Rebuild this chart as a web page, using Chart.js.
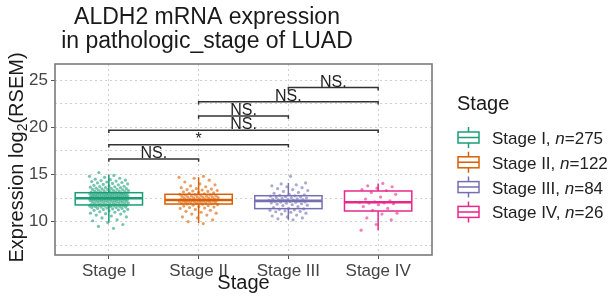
<!DOCTYPE html>
<html>
<head>
<meta charset="utf-8">
<script src="https://cdn.jsdelivr.net/npm/chart.js@4.4.1/dist/chart.umd.min.js"></script>
<style>
  html, body { margin: 0; padding: 0; background: #fff; }
</style>
</head>
<body>
<canvas id="boxChart" width="614" height="307"></canvas>
<script>
const stages = ['Stage I', 'Stage II', 'Stage III', 'Stage IV'];
const stageCounts = [275, 122, 84, 26];
const stageColors = ['#1B9E77', '#D95F02', '#7570B3', '#E7298A'];
const pointColors = ['rgba(27,158,119,0.6)', 'rgba(217,95,2,0.6)', 'rgba(117,112,179,0.6)', 'rgba(231,41,138,0.6)'];

// box stats
const whiskerLow  = [9.9, 9.83, 10.2, 9.1];
const q1          = [11.77, 11.87, 11.38, 11.13];
const median      = [12.48, 12.3, 12.2, 12.05];
const q3          = [13.07, 12.9, 12.75, 13.25];
const whiskerHigh = [15.0, 14.7, 14.1, 14.05];

// jittered points (estimated)
const stage1 = [
  9.3, 9.5, 9.7, 9.9, 10.1, 10.2, 10.4, 10.5, 10.6, 10.7, 10.8, 10.85, 10.9,
  11.0, 11.05, 11.1, 11.15, 11.2, 11.25, 11.3, 11.3, 11.35, 11.4, 11.4, 11.45, 11.5, 11.5, 11.55, 11.55,
  11.6, 11.6, 11.62, 11.65, 11.65, 11.68, 11.7, 11.7, 11.72, 11.73, 11.74, 11.75, 11.75, 11.76, 11.76, 11.77,
  11.8, 11.82, 11.85, 11.87, 11.9, 11.92, 11.95, 11.97, 12.0, 12.0, 12.02, 12.05, 12.07, 12.1, 12.1,
  12.12, 12.15, 12.15, 12.18, 12.2, 12.2, 12.22, 12.25, 12.25, 12.28, 12.3, 12.3, 12.32, 12.34, 12.35,
  12.36, 12.38, 12.38, 12.4, 12.4, 12.41, 12.42, 12.43, 12.44, 12.45, 12.45, 12.46, 12.46, 12.47, 12.48,
  12.5, 12.5, 12.52, 12.53, 12.55, 12.55, 12.57, 12.58, 12.6, 12.6, 12.62, 12.63, 12.65, 12.65, 12.67,
  12.68, 12.7, 12.7, 12.72, 12.74, 12.75, 12.76, 12.78, 12.8, 12.8, 12.82, 12.84, 12.85, 12.86, 12.88,
  12.9, 12.9, 12.92, 12.93, 12.95, 12.96, 12.97, 12.98, 13.0, 13.0, 13.02, 13.03, 13.04, 13.05, 13.06,
  13.1, 13.12, 13.15, 13.18, 13.2, 13.22, 13.25, 13.28, 13.3, 13.32, 13.35, 13.38, 13.4, 13.42, 13.45,
  13.48, 13.5, 13.52, 13.55, 13.6, 13.62, 13.65, 13.7, 13.72, 13.75, 13.8, 13.85, 13.9, 13.95, 14.0,
  14.05, 14.1, 14.15, 14.2, 14.25, 14.3, 14.35, 14.4, 14.45, 14.5, 14.6, 14.7, 14.8, 14.9, 15.2
];
const stage2 = [
  9.8, 10.0, 10.2, 10.4, 10.5, 10.7, 10.8, 10.9, 11.0, 11.1, 11.2, 11.3, 11.4, 11.45, 11.5, 11.55,
  11.6, 11.65, 11.7, 11.75, 11.8, 11.85,
  11.88, 11.9, 11.93, 11.95, 11.98, 12.0, 12.02, 12.05, 12.07, 12.1, 12.12, 12.14, 12.15, 12.17,
  12.19, 12.2, 12.22, 12.23, 12.25, 12.26, 12.27, 12.28, 12.3,
  12.32, 12.35, 12.37, 12.4, 12.42, 12.45, 12.48, 12.5, 12.52, 12.55, 12.58, 12.6, 12.62, 12.65,
  12.68, 12.7, 12.72, 12.75, 12.78, 12.8, 12.83, 12.86, 12.9,
  12.95, 13.0, 13.05, 13.1, 13.15, 13.2, 13.25, 13.3, 13.35, 13.4, 13.45, 13.5, 13.6, 13.7, 13.8,
  13.9, 14.0, 14.2, 14.4, 14.6, 14.7, 14.8
];
const stage3 = [
  10.2, 10.3, 10.4, 10.5, 10.6, 10.7, 10.8, 10.9, 11.0, 11.05, 11.1, 11.15, 11.2, 11.25, 11.3, 11.35,
  11.4, 11.5, 11.6, 11.7, 11.75, 11.8, 11.85, 11.9, 11.95, 12.0, 12.05, 12.08, 12.1, 12.13, 12.16, 12.19,
  12.22, 12.25, 12.28, 12.3, 12.33, 12.36, 12.4, 12.43, 12.46, 12.5, 12.53, 12.57, 12.6, 12.65, 12.7, 12.74,
  12.8, 12.85, 12.9, 13.0, 13.1, 13.2, 13.3, 13.4, 13.5, 13.6, 13.7, 13.8, 13.9, 14.0, 14.1, 14.8
];
const stage4 = [
  14.05, 13.8, 13.7, 13.55, 13.4, 13.3, 13.1, 12.9, 12.6, 12.4, 12.2, 12.1, 12.05,
  12.0, 11.95, 11.9, 11.8, 11.6, 11.4, 11.2, 10.9, 10.8, 10.4, 10.2, 9.7, 9.1
];
const stageValues = [stage1, stage2, stage3, stage4];

// significance brackets
const bracketFrom  = [1, 1, 1, 2, 2, 3];
const bracketTo    = [2, 3, 4, 3, 4, 4];
const bracketY     = [16.64, 18.16, 19.68, 21.2, 22.7, 24.2];
const bracketLabel = ['NS.', '*', 'NS.', 'NS.', 'NS.', 'NS.'];

const yTicks = [7.5, 10, 12.5, 15, 17.5, 20, 22.5, 25];

const FONT = '"Liberation Sans", Arial, sans-serif';

let dsets = [];
for (let i = 0; i < stageValues.length; i++) {
  dsets.push({
    data: stageValues[i].map((v, k) => ({ x: i + 1 + ((((k + 1) * 0.6180339887) % 1) - 0.5) * 0.44, y: v })),
    backgroundColor: pointColors[i],
    borderWidth: 0,
    pointRadius: 1.6
  });
}
for (let j = 0; j < bracketFrom.length; j++) {
  dsets.push({
    data: [
      { x: bracketFrom[j], y: bracketY[j] - 0.3 },
      { x: bracketFrom[j], y: bracketY[j] },
      { x: bracketTo[j], y: bracketY[j] },
      { x: bracketTo[j], y: bracketY[j] - 0.3 }
    ],
    showLine: true,
    borderColor: '#333333',
    borderWidth: 1.5,
    pointRadius: 0,
    fill: false
  });
}

const boxPlugin = {
  id: 'boxes',
  beforeDatasetsDraw(chart) {
    const { ctx, scales: { x, y } } = chart;
    ctx.save();
    for (let i = 0; i < stages.length; i++) {
      const cx = x.getPixelForValue(i + 1);
      const l = x.getPixelForValue(i + 1 - 0.375);
      const r = x.getPixelForValue(i + 1 + 0.375);
      ctx.strokeStyle = stageColors[i];
      ctx.lineWidth = 1.5;
      ctx.beginPath();
      ctx.moveTo(cx, y.getPixelForValue(whiskerHigh[i]));
      ctx.lineTo(cx, y.getPixelForValue(q3[i]));
      ctx.moveTo(cx, y.getPixelForValue(q1[i]));
      ctx.lineTo(cx, y.getPixelForValue(whiskerLow[i]));
      ctx.stroke();
      const top = y.getPixelForValue(q3[i]);
      const bot = y.getPixelForValue(q1[i]);
      ctx.fillStyle = '#ffffff';
      ctx.fillRect(l, top, r - l, bot - top);
      ctx.strokeRect(l, top, r - l, bot - top);
      ctx.lineWidth = 2.6;
      ctx.beginPath();
      ctx.moveTo(l, y.getPixelForValue(median[i]));
      ctx.lineTo(r, y.getPixelForValue(median[i]));
      ctx.stroke();
    }
    ctx.restore();
  },
  afterDraw(chart) {
    const { ctx, chartArea: a, scales: { x, y } } = chart;
    ctx.save();
    // panel border
    ctx.strokeStyle = '#7a7a7a';
    ctx.lineWidth = 1.6;
    ctx.strokeRect(a.left, a.top, a.right - a.left, a.bottom - a.top);

    // bracket labels
    ctx.fillStyle = '#222222';
    ctx.font = '16px ' + FONT;
    ctx.textAlign = 'center';
    ctx.textBaseline = 'alphabetic';
    for (let j = 0; j < bracketFrom.length; j++) {
      const px = (x.getPixelForValue(bracketFrom[j]) + x.getPixelForValue(bracketTo[j])) / 2;
      ctx.fillText(bracketLabel[j], px, y.getPixelForValue(bracketY[j]) - 1);
    }

    // title
    ctx.fillStyle = '#1a1a1a';
    ctx.font = '23px ' + FONT;
    ctx.fillText('ALDH2 mRNA expression', 207, 24);
    ctx.fillText('in pathologic_stage of LUAD', 207, 47.5);

    // x title
    ctx.font = '20px ' + FONT;
    ctx.fillText('Stage', (a.left + a.right) / 2, 289);

    // y title with subscript
    ctx.save();
    ctx.translate(23, 157.5);
    ctx.rotate(-Math.PI / 2);
    ctx.textAlign = 'left';
    const p1 = 'Expression log', p2 = '2', p3 = '(RSEM)';
    ctx.font = '20px ' + FONT;
    const w1 = ctx.measureText(p1).width, w3 = ctx.measureText(p3).width;
    ctx.font = '14px ' + FONT;
    const w2 = ctx.measureText(p2).width;
    let sx = -(w1 + w2 + w3) / 2;
    ctx.font = '20px ' + FONT;
    ctx.fillText(p1, sx, 0);
    ctx.font = '14px ' + FONT;
    ctx.fillText(p2, sx + w1, 4);
    ctx.font = '20px ' + FONT;
    ctx.fillText(p3, sx + w1 + w2, 0);
    ctx.restore();

    // legend
    ctx.textAlign = 'left';
    ctx.fillStyle = '#1a1a1a';
    ctx.font = '20px ' + FONT;
    ctx.fillText('Stage', 457, 110);
    for (let i = 0; i < stages.length; i++) {
      const base = 144 + i * 24.8;
      const c = base - 6.5;
      ctx.strokeStyle = stageColors[i];
      ctx.lineWidth = 1.5;
      ctx.beginPath();
      ctx.moveTo(468.5, c - 10.5); ctx.lineTo(468.5, c - 5.5);
      ctx.moveTo(468.5, c + 5.5); ctx.lineTo(468.5, c + 10.5);
      ctx.moveTo(458, c); ctx.lineTo(479, c);
      ctx.stroke();
      ctx.strokeRect(458, c - 5.5, 21, 11);
      ctx.fillStyle = '#222222';
      ctx.font = '17px ' + FONT;
      let tx = 492;
      const s1 = stages[i] + ', ';
      ctx.fillText(s1, tx, base);
      tx += ctx.measureText(s1).width;
      ctx.font = 'italic 17px ' + FONT;
      ctx.fillText('n', tx, base);
      tx += ctx.measureText('n').width;
      ctx.font = '17px ' + FONT;
      ctx.fillText('=' + stageCounts[i], tx, base);
    }
    ctx.restore();
  }
};

new Chart(document.getElementById('boxChart'), {
  type: 'scatter',
  data: { datasets: dsets },
  options: {
    responsive: false,
    animation: false,
    devicePixelRatio: 1,
    events: [],
    layout: { padding: { top: 64, right: 182, left: 0, bottom: 0 } },
    plugins: { legend: { display: false }, tooltip: { enabled: false } },
    scales: {
      x: {
        type: 'linear',
        min: 0.4,
        max: 4.6,
        afterFit(scale) { scale.height = 52; },
        afterBuildTicks(scale) { scale.ticks = [1, 2, 3, 4].map(v => ({ value: v })); },
        ticks: {
          callback: v => stages[v - 1],
          font: { family: FONT, size: 17 },
          color: '#444444',
          padding: 2,
          maxRotation: 0
        },
        grid: { color: '#d0d0d0', tickColor: '#555555', tickLength: 4 },
        border: { display: false, dash: [2, 3] }
      },
      y: {
        type: 'linear',
        min: 6.47,
        max: 26.7,
        afterFit(scale) { scale.width = 55; },
        afterBuildTicks(scale) { scale.ticks = yTicks.map(v => ({ value: v })); },
        ticks: {
          callback: v => (v % 5 === 0 ? v : ''),
          font: { family: FONT, size: 17 },
          color: '#444444',
          padding: 3
        },
        grid: {
          color: '#d0d0d0',
          tickColor: c => (c.tick && c.tick.value % 5 === 0 ? '#555555' : 'rgba(0,0,0,0)'),
          tickLength: 4
        },
        border: { display: false, dash: [2, 3] }
      }
    }
  },
  plugins: [boxPlugin]
});
</script>
</body>
</html>
